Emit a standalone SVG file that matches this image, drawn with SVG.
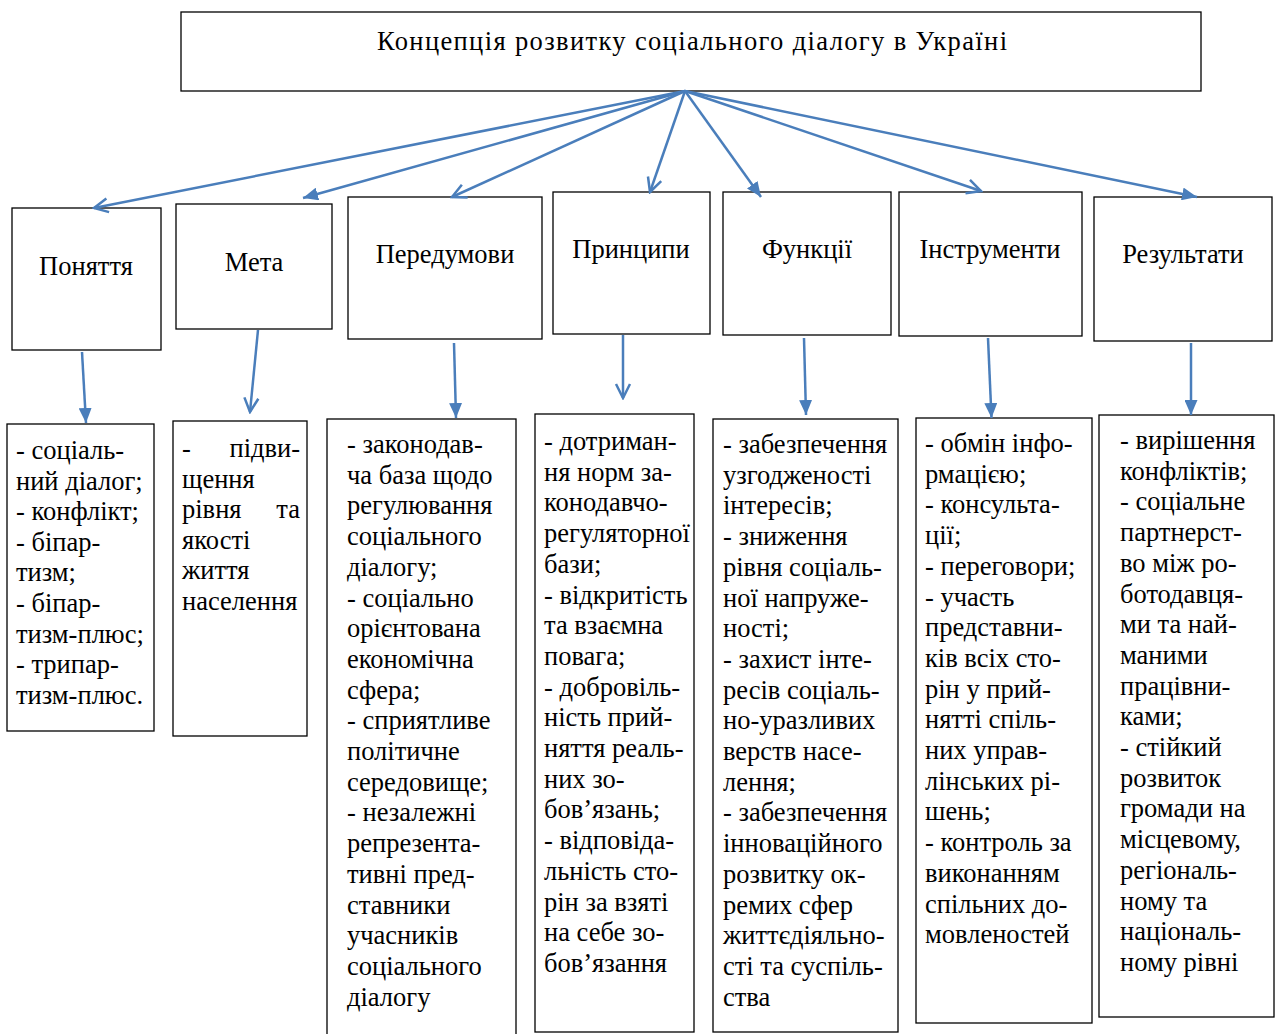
<svg xmlns="http://www.w3.org/2000/svg" width="1275" height="1034" viewBox="0 0 1275 1034">
<defs>
<style>
.box{fill:#fff;stroke:#000;stroke-width:1.3}
.t{font-family:"Liberation Serif","Times New Roman",serif;font-size:26.5px;fill:#000}
.h{font-family:"Liberation Serif","Times New Roman",serif;font-size:26.5px;fill:#000;text-anchor:middle}
.c{fill:none;stroke:#4a7ebb;stroke-width:2.5}
</style>
<marker id="open" viewBox="0 0 18 18" refX="16" refY="9" markerWidth="18" markerHeight="18" markerUnits="userSpaceOnUse" orient="auto">
<path d="M2,2 L16,9 L2,16" fill="none" stroke="#4a7ebb" stroke-width="2.5"/>
</marker>
<marker id="fill" viewBox="0 0 15 13" refX="15" refY="6.5" markerWidth="15" markerHeight="13" markerUnits="userSpaceOnUse" orient="auto">
<path d="M0,0 L15,6.5 L0,13 z" fill="#4a7ebb"/>
</marker>
</defs>
<rect width="1275" height="1034" fill="#fff"/>

<g id="root">
<rect class="box" x="181" y="12" width="1020" height="79"/>
<text class="t" x="377" y="50" textLength="630">Концепція розвитку соціального діалогу в Україні</text>
</g>

<g id="n-ponyattya">
<rect class="box" x="12" y="208" width="149" height="142"/>
<text class="h" x="86" y="275">Поняття</text>
</g>
<g id="n-meta">
<rect class="box" x="176" y="204" width="156" height="125"/>
<text class="h" x="254" y="271">Мета</text>
</g>
<g id="n-peredumovy">
<rect class="box" x="348" y="197" width="194" height="142"/>
<text class="h" x="445" y="263">Передумови</text>
</g>
<g id="n-pryntsypy">
<rect class="box" x="553" y="192" width="157" height="142"/>
<text class="h" x="631" y="258">Принципи</text>
</g>
<g id="n-funktsii">
<rect class="box" x="723" y="192" width="168" height="143"/>
<text class="h" x="807" y="258">Функції</text>
</g>
<g id="n-instrumenty">
<rect class="box" x="899" y="192" width="183" height="144"/>
<text class="h" x="990" y="258">Інструменти</text>
</g>
<g id="n-rezultaty">
<rect class="box" x="1094" y="197" width="178" height="144"/>
<text class="h" x="1183" y="263">Результати</text>
</g>

<g id="d-ponyattya">
<rect class="box" x="7" y="424" width="147" height="307"/>
<text class="t" x="16" y="459"><tspan x="16">- соціаль-</tspan><tspan x="16" dy="30.6">ний діалог;</tspan><tspan x="16" dy="30.6">- конфлікт;</tspan><tspan x="16" dy="30.6">- біпар-</tspan><tspan x="16" dy="30.6">тизм;</tspan><tspan x="16" dy="30.6">- біпар-</tspan><tspan x="16" dy="30.6">тизм-плюс;</tspan><tspan x="16" dy="30.6">- трипар-</tspan><tspan x="16" dy="30.6">тизм-плюс.</tspan></text>
</g>
<g id="d-meta">
<rect class="box" x="173" y="421" width="134" height="315"/>
<text class="t" x="182" y="457">-</text>
<text class="t" x="300" y="457" text-anchor="end">підви-</text>
<text class="t" x="182" y="487.6">щення</text>
<text class="t" x="182" y="518.2">рівня</text>
<text class="t" x="300" y="518.2" text-anchor="end">та</text>
<text class="t" x="182" y="548.8">якості</text>
<text class="t" x="182" y="579.4">життя</text>
<text class="t" x="182" y="610">населення</text>
</g>
<g id="d-peredumovy">
<rect class="box" x="327" y="419" width="189" height="625"/>
<text class="t" x="347" y="453"><tspan x="347">- законодав-</tspan><tspan x="347" dy="30.7">ча база щодо</tspan><tspan x="347" dy="30.7">регулювання</tspan><tspan x="347" dy="30.7">соціального</tspan><tspan x="347" dy="30.7">діалогу;</tspan><tspan x="347" dy="30.7">- соціально</tspan><tspan x="347" dy="30.7">орієнтована</tspan><tspan x="347" dy="30.7">економічна</tspan><tspan x="347" dy="30.7">сфера;</tspan><tspan x="347" dy="30.7">- сприятливе</tspan><tspan x="347" dy="30.7">політичне</tspan><tspan x="347" dy="30.7">середовище;</tspan><tspan x="347" dy="30.7">- незалежні</tspan><tspan x="347" dy="30.7">репрезента-</tspan><tspan x="347" dy="30.7">тивні пред-</tspan><tspan x="347" dy="30.7">ставники</tspan><tspan x="347" dy="30.7">учасників</tspan><tspan x="347" dy="30.7">соціального</tspan><tspan x="347" dy="30.7">діалогу</tspan></text>
</g>
<g id="d-pryntsypy">
<rect class="box" x="535" y="414" width="159" height="618"/>
<text class="t" x="544" y="450"><tspan x="544">- дотриман-</tspan><tspan x="544" dy="30.7">ня норм за-</tspan><tspan x="544" dy="30.7">конодавчо-</tspan><tspan x="544" dy="30.7">регуляторної</tspan><tspan x="544" dy="30.7">бази;</tspan><tspan x="544" dy="30.7">- відкритість</tspan><tspan x="544" dy="30.7">та взаємна</tspan><tspan x="544" dy="30.7">повага;</tspan><tspan x="544" dy="30.7">- добровіль-</tspan><tspan x="544" dy="30.7">ність прий-</tspan><tspan x="544" dy="30.7">няття реаль-</tspan><tspan x="544" dy="30.7">них зо-</tspan><tspan x="544" dy="30.7">бов’язань;</tspan><tspan x="544" dy="30.7">- відповіда-</tspan><tspan x="544" dy="30.7">льність сто-</tspan><tspan x="544" dy="30.7">рін за взяті</tspan><tspan x="544" dy="30.7">на себе зо-</tspan><tspan x="544" dy="30.7">бов’язання</tspan></text>
</g>
<g id="d-funktsii">
<rect class="box" x="713" y="419" width="185" height="613"/>
<text class="t" x="723" y="453"><tspan x="723">- забезпечення</tspan><tspan x="723" dy="30.7">узгодженості</tspan><tspan x="723" dy="30.7">інтересів;</tspan><tspan x="723" dy="30.7">- зниження</tspan><tspan x="723" dy="30.7">рівня соціаль-</tspan><tspan x="723" dy="30.7">ної напруже-</tspan><tspan x="723" dy="30.7">ності;</tspan><tspan x="723" dy="30.7">- захист інте-</tspan><tspan x="723" dy="30.7">ресів соціаль-</tspan><tspan x="723" dy="30.7">но-уразливих</tspan><tspan x="723" dy="30.7">верств насе-</tspan><tspan x="723" dy="30.7">лення;</tspan><tspan x="723" dy="30.7">- забезпечення</tspan><tspan x="723" dy="30.7">інноваційного</tspan><tspan x="723" dy="30.7">розвитку ок-</tspan><tspan x="723" dy="30.7">ремих сфер</tspan><tspan x="723" dy="30.7">життєдіяльно-</tspan><tspan x="723" dy="30.7">сті та суспіль-</tspan><tspan x="723" dy="30.7">ства</tspan></text>
</g>
<g id="d-instrumenty">
<rect class="box" x="916" y="418" width="176" height="605"/>
<text class="t" x="925" y="452"><tspan x="925">- обмін інфо-</tspan><tspan x="925" dy="30.7">рмацією;</tspan><tspan x="925" dy="30.7">- консульта-</tspan><tspan x="925" dy="30.7">ції;</tspan><tspan x="925" dy="30.7">- переговори;</tspan><tspan x="925" dy="30.7">- участь</tspan><tspan x="925" dy="30.7">представни-</tspan><tspan x="925" dy="30.7">ків всіх сто-</tspan><tspan x="925" dy="30.7">рін у прий-</tspan><tspan x="925" dy="30.7">нятті спіль-</tspan><tspan x="925" dy="30.7">них управ-</tspan><tspan x="925" dy="30.7">лінських рі-</tspan><tspan x="925" dy="30.7">шень;</tspan><tspan x="925" dy="30.7">- контроль за</tspan><tspan x="925" dy="30.7">виконанням</tspan><tspan x="925" dy="30.7">спільних до-</tspan><tspan x="925" dy="30.7">мовленостей</tspan></text>
</g>
<g id="d-rezultaty">
<rect class="box" x="1099" y="415" width="175" height="602"/>
<text class="t" x="1120" y="449"><tspan x="1120">- вирішення</tspan><tspan x="1120" dy="30.7">конфліктів;</tspan><tspan x="1120" dy="30.7">- соціальне</tspan><tspan x="1120" dy="30.7">партнерст-</tspan><tspan x="1120" dy="30.7">во між ро-</tspan><tspan x="1120" dy="30.7">ботодавця-</tspan><tspan x="1120" dy="30.7">ми та най-</tspan><tspan x="1120" dy="30.7">маними</tspan><tspan x="1120" dy="30.7">працівни-</tspan><tspan x="1120" dy="30.7">ками;</tspan><tspan x="1120" dy="30.7">- стійкий</tspan><tspan x="1120" dy="30.7">розвиток</tspan><tspan x="1120" dy="30.7">громади на</tspan><tspan x="1120" dy="30.7">місцевому,</tspan><tspan x="1120" dy="30.7">регіональ-</tspan><tspan x="1120" dy="30.7">ному та</tspan><tspan x="1120" dy="30.7">національ-</tspan><tspan x="1120" dy="30.7">ному рівні</tspan></text>
</g>

<g id="connectors">
<line class="c" x1="685" y1="91" x2="94" y2="208" marker-end="url(#open)"/>
<line class="c" x1="685" y1="91" x2="303" y2="198" marker-end="url(#fill)"/>
<line class="c" x1="685" y1="91" x2="452" y2="197" marker-end="url(#open)"/>
<line class="c" x1="685" y1="91" x2="650" y2="192" marker-end="url(#open)"/>
<line class="c" x1="685" y1="91" x2="761" y2="197" marker-end="url(#fill)"/>
<line class="c" x1="685" y1="91" x2="981" y2="191" marker-end="url(#open)"/>
<line class="c" x1="685" y1="91" x2="1197" y2="197" marker-end="url(#fill)"/>
<line class="c" x1="82" y1="352" x2="86" y2="423" marker-end="url(#fill)"/>
<line class="c" x1="258" y1="330" x2="250" y2="412" marker-end="url(#open)"/>
<line class="c" x1="454" y1="343" x2="456" y2="418" marker-end="url(#fill)"/>
<line class="c" x1="623" y1="335" x2="623" y2="398" marker-end="url(#open)"/>
<line class="c" x1="804" y1="338" x2="806" y2="415" marker-end="url(#fill)"/>
<line class="c" x1="988" y1="338" x2="991.5" y2="418" marker-end="url(#fill)"/>
<line class="c" x1="1191" y1="343" x2="1191" y2="415" marker-end="url(#fill)"/>
</g>
</svg>
